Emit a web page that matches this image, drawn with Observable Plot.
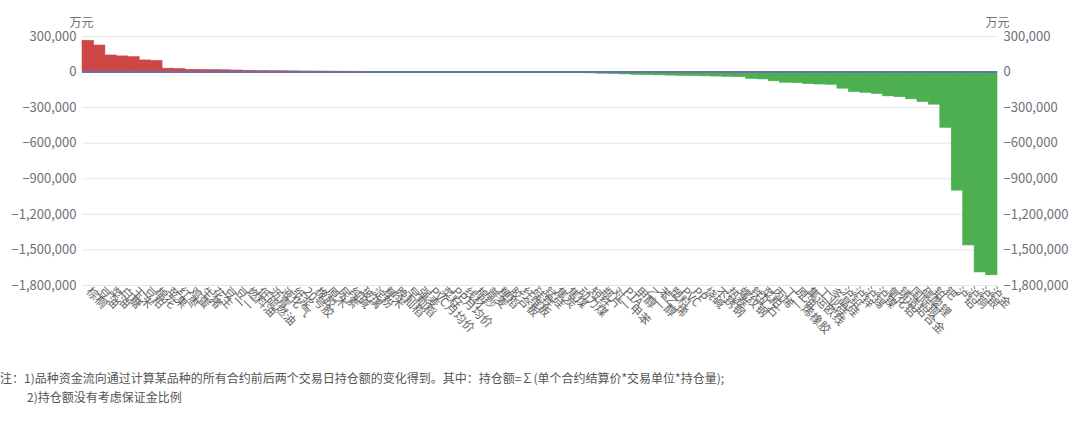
<!DOCTYPE html>
<html><head><meta charset="utf-8">
<script src="https://cdn.jsdelivr.net/npm/d3@7"></script>
<script src="https://cdn.jsdelivr.net/npm/@observablehq/plot@0.6"></script>
<style>
body{margin:0;background:#fff;font-family:"Noto Sans CJK SC","Noto Sans",sans-serif;}
#note{font-size:12px;color:#555;line-height:19px;margin-top:8px;white-space:nowrap;}
</style></head><body>
<div id="chart"></div>
<div id="note"><div>注：1)品种资金流向通过计算某品种的所有合约前后两个交易日持仓额的变化得到。其中：持仓额=∑(单个合约结算价*交易单位*持仓量);</div><div style="padding-left:27px">2)持仓额没有考虑保证金比例</div></div>
<script>
const categories = ["棕榈","豆油","菜油","白糖","玉米","豆粕","棉花","苹果","红枣","鸡蛋",
"生猪","花生","豆一","豆二","燃料油","低硫燃油","沥青","液化气","纸浆","20号胶",
"橡胶","原木","尿素","纯碱","玻璃","淀粉","粳米","晚籼稻","早籼稻","强麦",
"PVC月均价","菜籽","PP月均价","线材","棉纱","普麦","粳稻","胶合板","纤维板","硅铁",
"锰硅","焦炭","焦煤","动力煤","短纤","瓶片","对二甲苯","PTA","甲醇","乙二醇",
"苯乙烯","塑料","PVC","PP","烧碱","不锈钢","热卷","螺纹钢","铁矿石","菜粕",
"丙烯","丁二烯橡胶","原油","集运欧线","工业硅","多晶硅","沪铅","沪锌","沪锡","沪镍",
"氧化铝","铸造铝合金","国际铜","碳酸锂","铂","钯","沪铝","沪铜","沪银","沪金"];
const values = [264000,224000,140000,132000,126000,98000,94000,29000,25000,19000,
17000,16000,15000,13000,11000,9000,8000,7000,6000,5000,
4500,4000,3500,3000,2500,2000,1800,1500,1200,1000,
800,600,400,200,100,-200,-500,-800,-1200,-2000,
-3000,-4500,-6000,-8000,-11000,-14000,-17000,-20000,-23000,-26000,
-28000,-30000,-32000,-34000,-36000,-38000,-40000,-43000,-58000,-62000,
-78000,-90000,-93000,-102000,-105000,-107000,-140000,-168000,-175000,-185000,
-205000,-212000,-230000,-252000,-275000,-470000,-1000000,-1462000,-1690000,-1714000];
const yTicks = [300000,0,-300000,-600000,-900000,-1200000,-1500000,-1800000];
const unitLabel = "万元";

const data = categories.map((c,i)=>({name:c, value:values[i]}));
const font = '"Noto Sans CJK SC","Noto Sans",sans-serif';
const red = "#cf4646", green = "#4caf50";
const chart = Plot.plot({
  width:1080, height:360,
  marginLeft:82, marginRight:83, marginTop:36, marginBottom:75,
  style:{fontFamily:font, fontSize:"12px", color:"#6e7079", background:"#fff", overflow:"visible"},
  x:{domain:categories, padding:0, label:null},
  y:{domain:[-1800000,300000], label:null},
  marks:[
    Plot.gridY(yTicks,{stroke:"#e0e6f1", strokeOpacity:1}),
    Plot.barY(data,{filter:d=>d.value>=0, x:"name", y:"value", fill:red, stroke:red, strokeWidth:0.6, inset:0}),
    Plot.barY(data,{filter:d=>d.value<0, x:"name", y:"value", fill:green, stroke:green, strokeWidth:0.6, inset:0}),
    Plot.ruleY([0],{stroke:"#6673a8", strokeWidth:2}),
    Plot.axisY(yTicks,{anchor:"left", tickSize:0, tickPadding:6, tickFormat:d3.format(","), label:null, fontSize:13}),
    Plot.axisY(yTicks,{anchor:"right", tickSize:0, tickPadding:6, tickFormat:d3.format(","), label:null, fontSize:13}),
    Plot.axisX({tickRotate:45, tickSize:0, tickPadding:4, label:null, fontSize:12, fill:"#666"}),
    Plot.text([unitLabel],{frameAnchor:"top-left", text:d=>d, textAnchor:"middle", dx:-1, dy:-18, fontSize:12, fill:"#6e7079"}),
    Plot.text([unitLabel],{frameAnchor:"top-right", text:d=>d, textAnchor:"middle", dx:0, dy:-18, fontSize:12, fill:"#6e7079"})
  ]
});
document.getElementById("chart").appendChild(chart);
</script>
</body></html>
